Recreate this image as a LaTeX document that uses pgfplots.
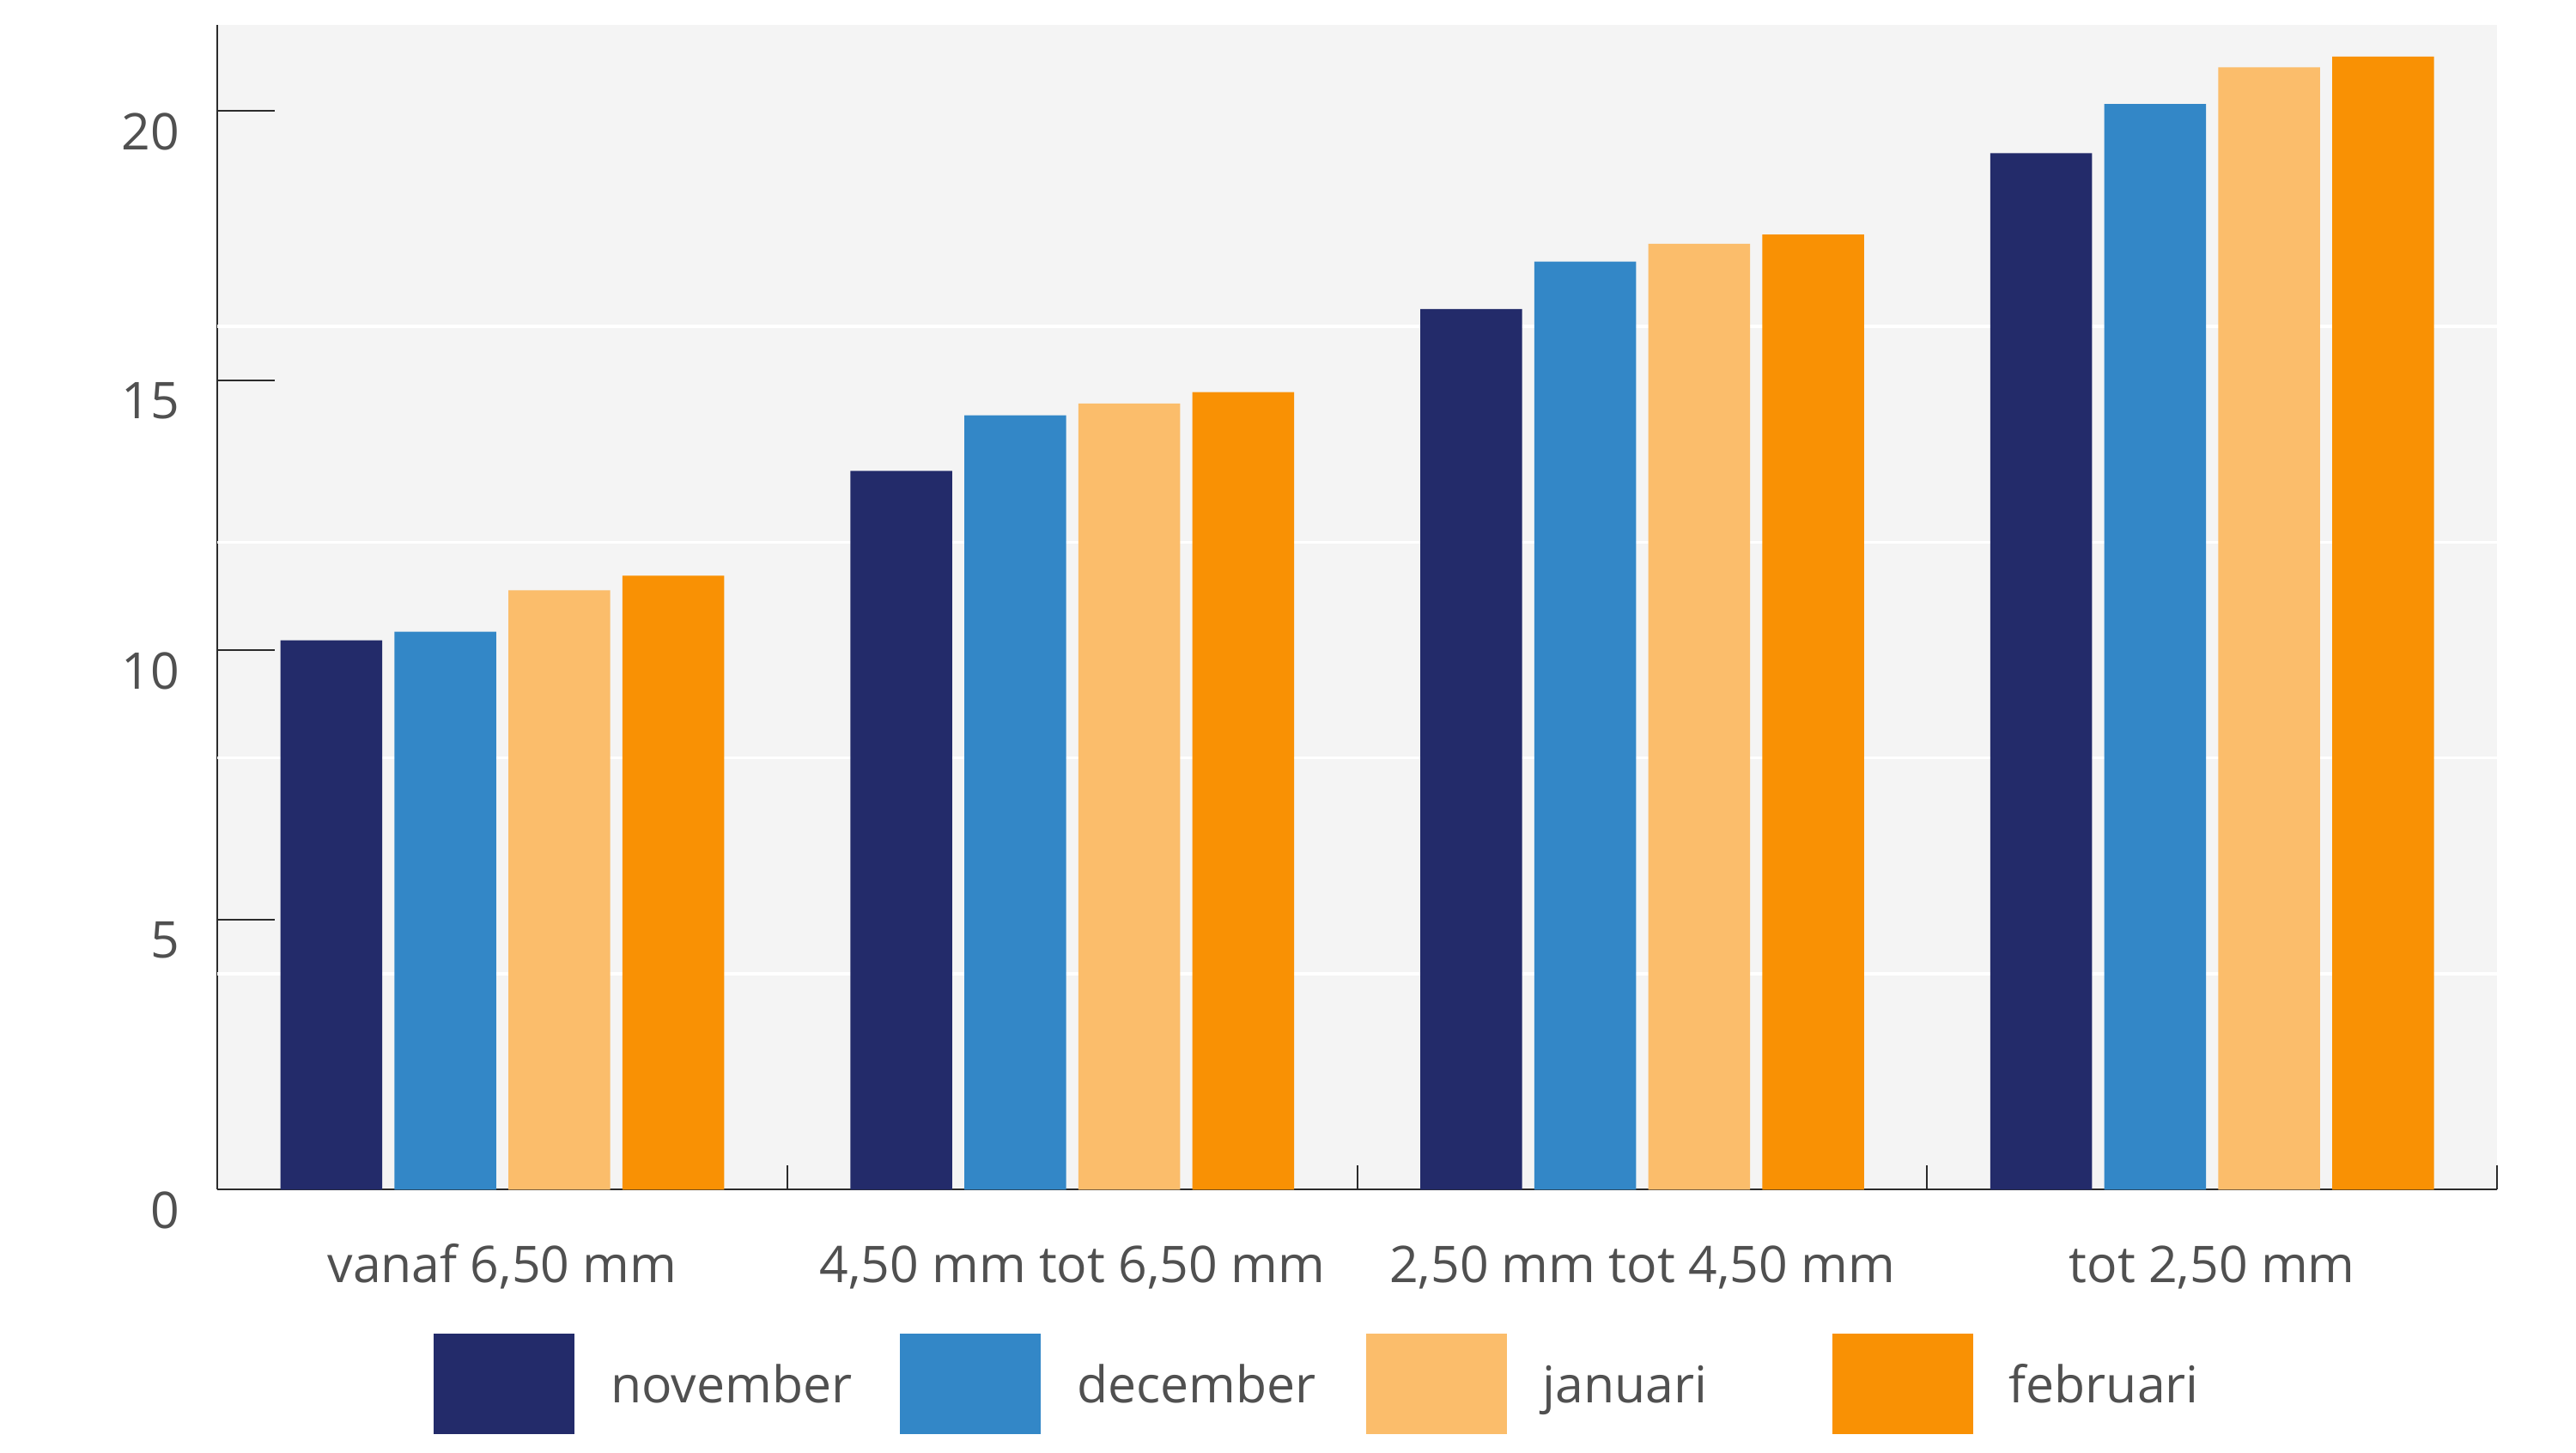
\documentclass[border=0pt]{standalone}
\usepackage{fontspec}
\setmainfont{Open Sans}
\usepackage{pgfplots}
\pgfplotsset{compat=1.18}

\definecolor{nov}{HTML}{232B6A}
\definecolor{dec}{HTML}{3387C7}
\definecolor{jan}{HTML}{FBBD6B}
\definecolor{feb}{HTML}{F99104}
\definecolor{bg}{HTML}{F4F4F4}
\definecolor{txt}{HTML}{505050}
\definecolor{axc}{HTML}{2B2B2B}

\pgfplotsset{legbox/.style={legend image code/.code={\fill[##1] (0pt,-9.25pt) rectangle (42.4pt,20.85pt);}}}

\begin{document}
\fontsize{15.2}{18}\selectfont
\begin{tikzpicture}
\begin{axis}[
  at={(0,0)}, anchor=south west,
  scale only axis, width=685pt, height=349.8pt,
  xmin=-0.5, xmax=3.5, ymin=0, ymax=21.58,
  ybar=3.65pt, bar width=30.6pt,
  axis background/.style={fill=bg},
  axis x line*=bottom, axis y line*=left,
  axis line style={-, draw=axc, line width=0.5pt},
  tick style={draw=axc, line width=0.5pt},
  tick align=inside,
  major tick length=17.3pt,
  minor tick length=7.4pt,
  xtick={0,1,2,3},
  xticklabels={{vanaf 6,50 mm}, {4,50 mm tot 6,50 mm}, {2,50 mm tot 4,50 mm}, {tot 2,50 mm}},
  major x tick style={draw=none},
  minor xtick={0.5,1.5,2.5,3.5},
  ytick={0,5,10,15,20},
  extra y ticks={4,8,12,16},
  extra y tick labels={},
  extra y tick style={grid=major, major tick length=0pt},
  major grid style={white, line width=0.9pt},
  /pgf/number format/assume math mode=true,
  every tick label/.append style={text=txt, font=\fontsize{15.2}{18}\selectfont},
  yticklabel style={anchor=north east, inner sep=0pt, xshift=-11.1pt, yshift=-0.5pt},
  xticklabel style={anchor=base, inner sep=0pt, yshift=-27.9pt},
  legend columns=4,
  legend style={at={(0.0949,-0.1668)}, anchor=west, draw=none, fill=none,
    inner sep=0pt, outer sep=0pt,
    cells={anchor=base west},
    /tikz/every odd column/.append style={column sep=10.8pt},
    /tikz/every even column/.append style={column sep=15.85pt},
    nodes={inner sep=0pt, text width=71pt, text=txt, font=\fontsize{15.2}{18}\selectfont}},
]
\addplot[fill=nov, draw=none, legbox]
  coordinates {(0,10.18) (1,13.32) (2,16.32) (3,19.21)};
\addplot[fill=dec, draw=none, legbox]
  coordinates {(0,10.34) (1,14.35) (2,17.20) (3,20.12)};
\addplot[fill=jan, draw=none, legbox]
  coordinates {(0,11.11) (1,14.57) (2,17.53) (3,20.80)};
\addplot[fill=feb, draw=none, legbox]
  coordinates {(0,11.38) (1,14.78) (2,17.70) (3,21.00)};
\legend{november, december, januari, februari}
\end{axis}
\pgfresetboundingbox
\useasboundingbox (-65.3pt,-78.9pt) rectangle (708.7pt,357.4pt);
\end{tikzpicture}
\end{document}
